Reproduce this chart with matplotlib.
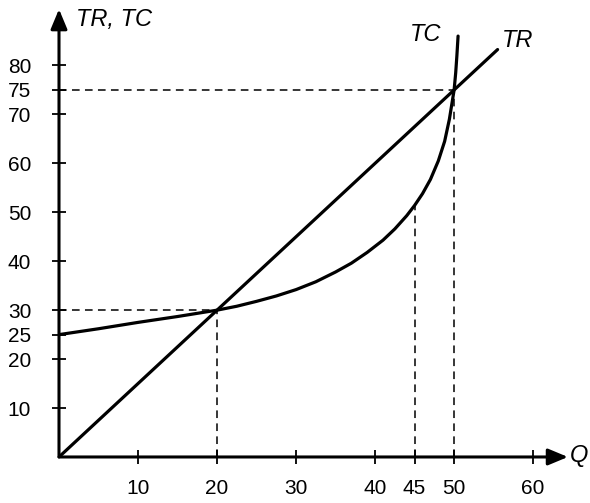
import numpy as np
import matplotlib.pyplot as plt

plt.rcParams['font.family'] = ['Liberation Sans', 'DejaVu Sans']

# values
q_tr = [0, 55.5]
tr = [0, 83.25]

q_tc = [0, 5, 10, 15, 20, 22.5, 25, 27.5, 30, 32.5, 35, 37, 39, 41, 42.5, 44,
        45, 46, 47, 48, 48.8, 49.4, 49.8, 50, 50.2, 50.35, 50.5]
tc = [25, 26.2, 27.5, 28.7, 30, 30.8, 31.8, 32.9, 34.2, 35.8, 37.8, 39.6, 41.8,
      44.3, 46.6, 49.3, 51.4, 53.8, 56.7, 60.5, 64.5, 69, 73, 75, 78.5, 82, 86]

x_ticks = [10, 20, 30, 40, 45, 50, 60]
y_ticks = [10, 20, 25, 30, 40, 50, 60, 70, 75, 80]

# dashed guides: (q, level)
guides = [(20, 30), (45, 51.4), (50, 75)]
h_guides = [(20, 30), (50, 75)]

fig = plt.figure(figsize=(5.9, 5.03), dpi=100)
ax = fig.add_axes([0.1, 0.0915, 0.884, 0.9])
ax.set_xlim(0, 66)
ax.set_ylim(0, 92.5)

for s in ax.spines.values():
    s.set_visible(False)

# axes drawn as arrows
ax.annotate('', xy=(64.4, 0), xytext=(0, 0),
            arrowprops=dict(arrowstyle='-|>,head_length=1.2,head_width=0.5',
                            lw=2.2, color='black', shrinkA=0, shrinkB=0))
ax.annotate('', xy=(0, 91.5), xytext=(0, 0),
            arrowprops=dict(arrowstyle='-|>,head_length=1.2,head_width=0.5',
                            lw=2.2, color='black', shrinkA=0, shrinkB=0))

for q, v in guides:
    ax.plot([q, q], [0, v], ls=(0, (5, 3.5)), lw=1.1, color='black')
for q, v in h_guides:
    ax.plot([0, q], [v, v], ls=(0, (5, 3.5)), lw=1.1, color='black')

ax.plot(q_tr, tr, color='black', lw=2.3, solid_capstyle='round')
ax.plot(q_tc, tc, color='black', lw=2.3, solid_capstyle='round',
        solid_joinstyle='round')

ax.set_xticks(x_ticks)
ax.set_yticks(y_ticks)
ax.set_xticklabels([str(t) for t in x_ticks])
ax.set_yticklabels([str(t) for t in y_ticks])
ax.tick_params(axis='both', direction='inout', length=10, width=1.3,
               labelsize=15, color='black')
ax.tick_params(axis='x', pad=11)
ax.tick_params(axis='y', pad=15)

ax.text(2.2, 89.3, 'TR, TC', fontsize=17, style='italic', va='center', ha='left')
ax.text(44.4, 86.3, 'TC', fontsize=17, style='italic', va='center', ha='left')
ax.text(56.0, 85.0, 'TR', fontsize=17, style='italic', va='center', ha='left')
ax.text(64.6, 0.2, 'Q', fontsize=17, style='italic', va='center', ha='left')

fig.savefig('out.png', dpi=100)
